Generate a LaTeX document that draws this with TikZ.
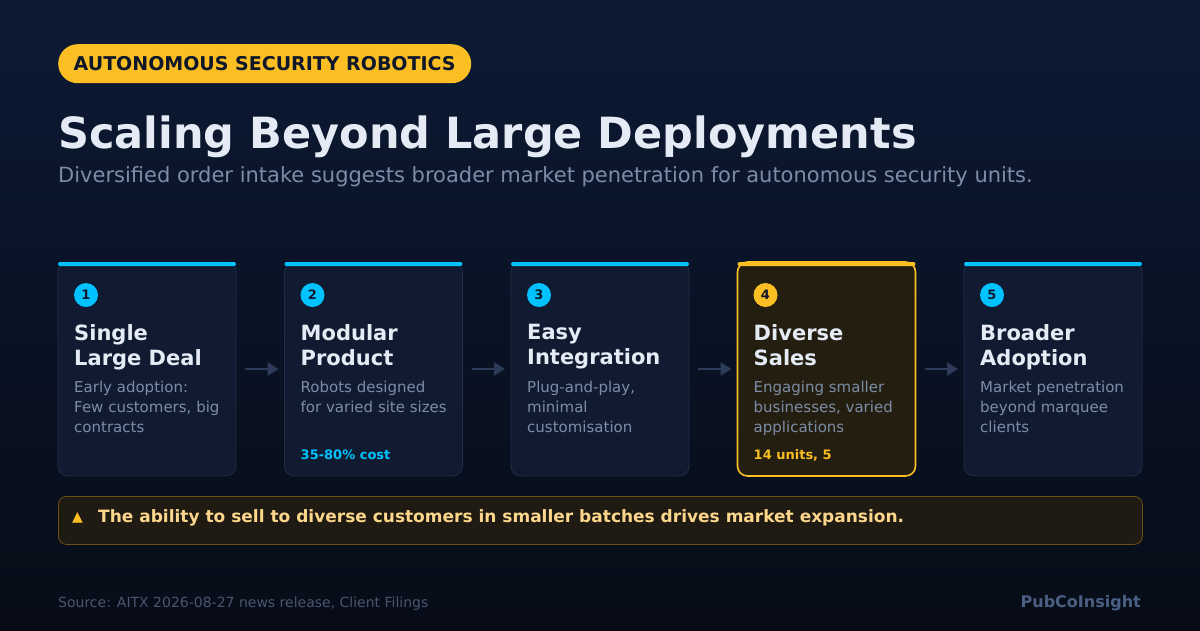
\documentclass[tikz,border=0pt]{standalone}
\usepackage{fontspec}
\setmainfont{DejaVu Sans}
\usepackage{xcolor}
\usetikzlibrary{arrows.meta,positioning,calc}

\definecolor{bgtop}{HTML}{0C1A34}
\definecolor{bgbot}{HTML}{070C17}
\definecolor{amber}{HTML}{FBBF24}
\definecolor{skyc}{HTML}{00C2FF}
\definecolor{cardfill}{HTML}{101B31}
\definecolor{cardline}{HTML}{1F2D48}
\definecolor{hotfill}{HTML}{231E10}
\definecolor{headtxt}{HTML}{E5EBF5}
\definecolor{subtxt}{HTML}{7D8CA6}
\definecolor{arrowc}{HTML}{2B3B58}
\definecolor{notefill}{HTML}{1F1A12}
\definecolor{noteline}{HTML}{6B5214}
\definecolor{notetxt}{HTML}{FCD68A}
\definecolor{foottxt}{HTML}{4A5670}
\definecolor{brandtxt}{HTML}{4A5F82}
\definecolor{inkdark}{HTML}{0F172A}

\begin{document}
\begin{tikzpicture}[x=1pt,y=-1pt,
  pill/.style={rectangle,fill=amber,rounded corners=19.5pt,minimum width=413pt,
               minimum height=39pt,inner sep=0pt,text=inkdark,
               font=\fontsize{19}{21}\selectfont\bfseries},
  card/.style={rectangle,draw=cardline,fill=cardfill,line width=0.8pt,outer sep=0pt,
               rounded corners=10pt,minimum width=178pt,minimum height=214pt},
  hotcard/.style={card,draw=amber,fill=hotfill,line width=1.6pt},
  badge/.style={circle,fill=skyc,minimum size=24pt,inner sep=0pt,text=inkdark,
                font=\fontsize{13}{13}\selectfont\bfseries},
  ctitle/.style={inner sep=0pt,align=left,text=headtxt,
                 font=\fontsize{21}{25}\selectfont\bfseries},
  cdesc/.style={inner sep=0pt,align=left,text=subtxt,
                font=\fontsize{15}{20}\selectfont},
  cstat/.style={inner sep=0pt,anchor=base west,text=skyc,
                font=\fontsize{13}{15}\selectfont\bfseries},
  arr/.style={-{Triangle[length=11pt,width=13pt]},line width=2.4pt,draw=arrowc,
              shorten <=9pt,shorten >=6pt},
  node distance=48.5pt
]
% background
\shade[top color=bgtop,bottom color=bgbot] (0,0) rectangle (1200,630);
\useasboundingbox (0,0) rectangle (1200,630);

% header
\node[pill,anchor=north west] (tag) at (58,44) {AUTONOMOUS SECURITY ROBOTICS};
\node[anchor=base west,inner sep=0pt,text=headtxt,
      font=\fontsize{43}{50}\selectfont\bfseries] (title) at (58,148)
      {Scaling Beyond Large Deployments};
\node[anchor=base west,inner sep=0pt,text=subtxt,
      font=\fontsize{21}{24}\selectfont] (sub) at (58,182)
      {Diversified order intake suggests broader market penetration for autonomous security units.};

% cards
\node[card,anchor=north west] (c1) at (58,262) {};
\node[card,right=of c1] (c2) {};
\node[card,right=of c2] (c3) {};
\node[hotcard,right=of c3] (c4) {};
\node[card,right=of c4] (c5) {};

\fill[skyc,rounded corners=2pt] (c1.north west) rectangle ([yshift=-4pt]c1.north east);
\fill[skyc,rounded corners=2pt] (c2.north west) rectangle ([yshift=-4pt]c2.north east);
\fill[skyc,rounded corners=2pt] (c3.north west) rectangle ([yshift=-4pt]c3.north east);
\fill[amber,rounded corners=2pt] (c4.north west) rectangle ([yshift=-4pt]c4.north east);
\fill[skyc,rounded corners=2pt] (c5.north west) rectangle ([yshift=-4pt]c5.north east);

\node[badge] (n1) at ([xshift=28pt,yshift=-33pt]c1.north west) {1};
\node[badge] (n2) at ([xshift=28pt,yshift=-33pt]c2.north west) {2};
\node[badge] (n3) at ([xshift=28pt,yshift=-33pt]c3.north west) {3};
\node[badge,fill=amber] (n4) at ([xshift=28pt,yshift=-33pt]c4.north west) {4};
\node[badge] (n5) at ([xshift=28pt,yshift=-33pt]c5.north west) {5};

\node[ctitle,below right=62pt and 16pt of c1.north west] (t1) {Single\\Large Deal};
\node[ctitle,below right=62pt and 16pt of c2.north west] (t2) {Modular\\Product};
\node[ctitle,below right=62pt and 16pt of c3.north west] (t3) {Easy\\Integration};
\node[ctitle,below right=62pt and 16pt of c4.north west] (t4) {Diverse\\Sales};
\node[ctitle,below right=62pt and 16pt of c5.north west] (t5) {Broader\\Adoption};

\node[cdesc,below right=119pt and 16pt of c1.north west] (d1) {Early adoption:\\Few customers, big\\contracts};
\node[cdesc,below right=119pt and 16pt of c2.north west] (d2) {Robots designed\\for varied site sizes};
\node[cdesc,below right=119pt and 16pt of c3.north west] (d3) {Plug-and-play,\\minimal\\customisation};
\node[cdesc,below right=119pt and 16pt of c4.north west] (d4) {Engaging smaller\\businesses, varied\\applications};
\node[cdesc,below right=119pt and 16pt of c5.north west] (d5) {Market penetration\\beyond marquee\\clients};

\node[cstat] (s2) at ([xshift=16pt,yshift=-197pt]c2.north west) {35-80\% cost};
\node[cstat,text=amber] (s4) at ([xshift=16pt,yshift=-197pt]c4.north west) {14 units, 5};

\draw[arr] (c1) -- (c2);
\draw[arr] (c2) -- (c3);
\draw[arr] (c3) -- (c4);
\draw[arr] (c4) -- (c5);

% takeaway
\node[rectangle,draw=noteline,fill=notefill,line width=0.8pt,rounded corners=8pt,
      minimum width=1084pt,minimum height=48pt,anchor=north west] (note) at (58,496) {};
\node[anchor=base west,inner sep=0pt,text=amber,font=\fontsize{14}{16}\selectfont]
      (warn) at ([xshift=14pt,yshift=-25pt]note.north west) {▲};
\node[anchor=base west,inner sep=0pt,text=notetxt,font=\fontsize{17}{19}\selectfont\bfseries]
      (msg) at ([xshift=40pt,yshift=-26pt]note.north west)
      {The ability to sell to diverse customers in smaller batches drives market expansion.};

% footer
\node[anchor=base west,inner sep=0pt,text=foottxt,font=\fontsize{14}{16}\selectfont]
      (src) at (58,607) {Source: AITX 2026-08-27 news release, Client Filings};
\node[anchor=base east,inner sep=0pt,text=brandtxt,font=\fontsize{16}{18}\selectfont\bfseries]
      (brand) at (1141,607) {PubCoInsight};
\end{tikzpicture}
\end{document}
